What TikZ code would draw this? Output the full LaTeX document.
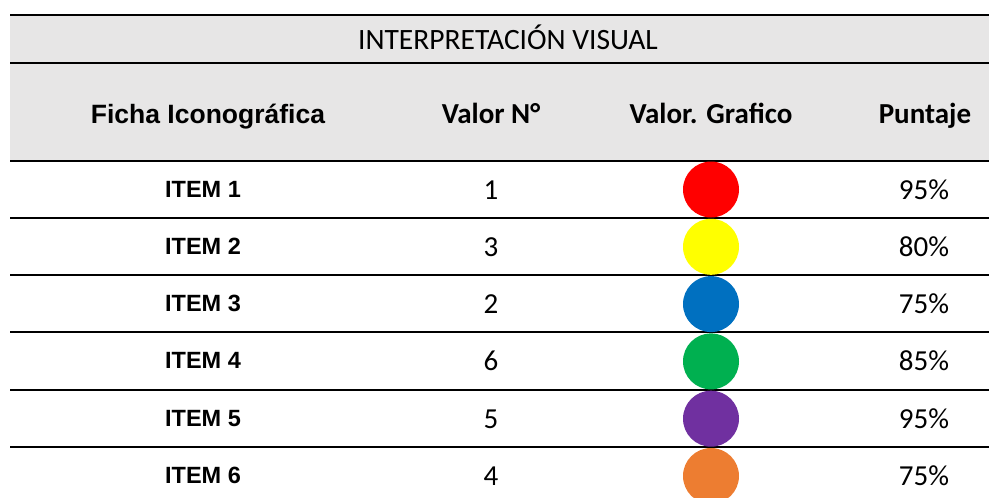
\documentclass[tikz,border=0pt]{standalone}
\usepackage{fontspec}
\setmainfont{Carlito}
\newfontfamily\arialfont{Liberation Sans}
\definecolor{headgray}{HTML}{E7E6E6}
\definecolor{dotred}{HTML}{FF0000}
\definecolor{dotyellow}{HTML}{FFFF00}
\definecolor{dotblue}{HTML}{0070C0}
\definecolor{dotgreen}{HTML}{00B050}
\definecolor{dotpurple}{HTML}{7030A0}
\definecolor{dotorange}{HTML}{ED7D31}

\begin{document}
\begin{tikzpicture}[x=1pt,
y=-1pt,
every node/.style={
inner sep=0pt,
anchor=base,
},
rule/.style={
line width=2pt,
},
title/.style={
font=\fontsize{29.5}{34}\selectfont,
},
head/.style={
font=\fontsize{29}{34}\selectfont\bfseries,
},
headarial/.style={
font=\arialfont\fontsize{26.5}{31}\selectfont\bfseries,
},
item/.style={
font=\arialfont\fontsize{23.5}{27}\selectfont\bfseries,
},
cell/.style={
font=\fontsize{29}{34}\selectfont,
},
dot/.style={
circle,
anchor=center,
minimum size=56pt,
}]

\useasboundingbox (0,0) rectangle (989,498);

%header background
\fill[headgray] (10,15) rectangle (989,161);

%rules
\draw[rule] (10,15) -- (989,15);
\draw[rule] (10,63) -- (989,63);
\draw[rule] (10,161) -- (989,161);
\draw[rule] (10,218) -- (989,218);
\draw[rule] (10,275) -- (989,275);
\draw[rule] (10,332) -- (989,332);
\draw[rule] (10,390) -- (989,390);
\draw[rule] (10,447) -- (989,447);

%title and column heads
\node[title] (titulo) at (508,49) {INTERPRETACIÓN VISUAL};
\node[headarial] (ficha) at (208,123) {Ficha Iconográfica};
\node[head] (valor) at (491,123) {Valor N°};
\node[head] (grafico) at (711,123) {Valor. Grafico};
\node[head] (puntaje) at (925,123) {Puntaje};

%dots
\node[dot,fill=dotred] (dot1) at (711,189.5) {};
\node[dot,fill=dotyellow] (dot2) at (711,246.8) {};
\node[dot,fill=dotblue] (dot3) at (711,304.1) {};
\node[dot,fill=dotgreen] (dot4) at (711,361.4) {};
\node[dot,fill=dotpurple] (dot5) at (711,418.7) {};
\node[dot,fill=dotorange] (dot6) at (711,476) {};

%rows
\node[item] (item1) at (203,197) {ITEM 1};
\node[cell] (valor1) at (491,199) {1};
\node[cell] (punt1) at (924,199) {95\%};

\node[item] (item2) at (203,254.3) {ITEM 2};
\node[cell] (valor2) at (491,256.3) {3};
\node[cell] (punt2) at (924,256.3) {80\%};

\node[item] (item3) at (203,311.6) {ITEM 3};
\node[cell] (valor3) at (491,313.6) {2};
\node[cell] (punt3) at (924,313.6) {75\%};

\node[item] (item4) at (203,368.9) {ITEM 4};
\node[cell] (valor4) at (491,370.9) {6};
\node[cell] (punt4) at (924,370.9) {85\%};

\node[item] (item5) at (203,426.2) {ITEM 5};
\node[cell] (valor5) at (491,428.2) {5};
\node[cell] (punt5) at (924,428.2) {95\%};

\node[item] (item6) at (203,483.5) {ITEM 6};
\node[cell] (valor6) at (491,485.5) {4};
\node[cell] (punt6) at (924,485.5) {75\%};
\end{tikzpicture}
\end{document}
